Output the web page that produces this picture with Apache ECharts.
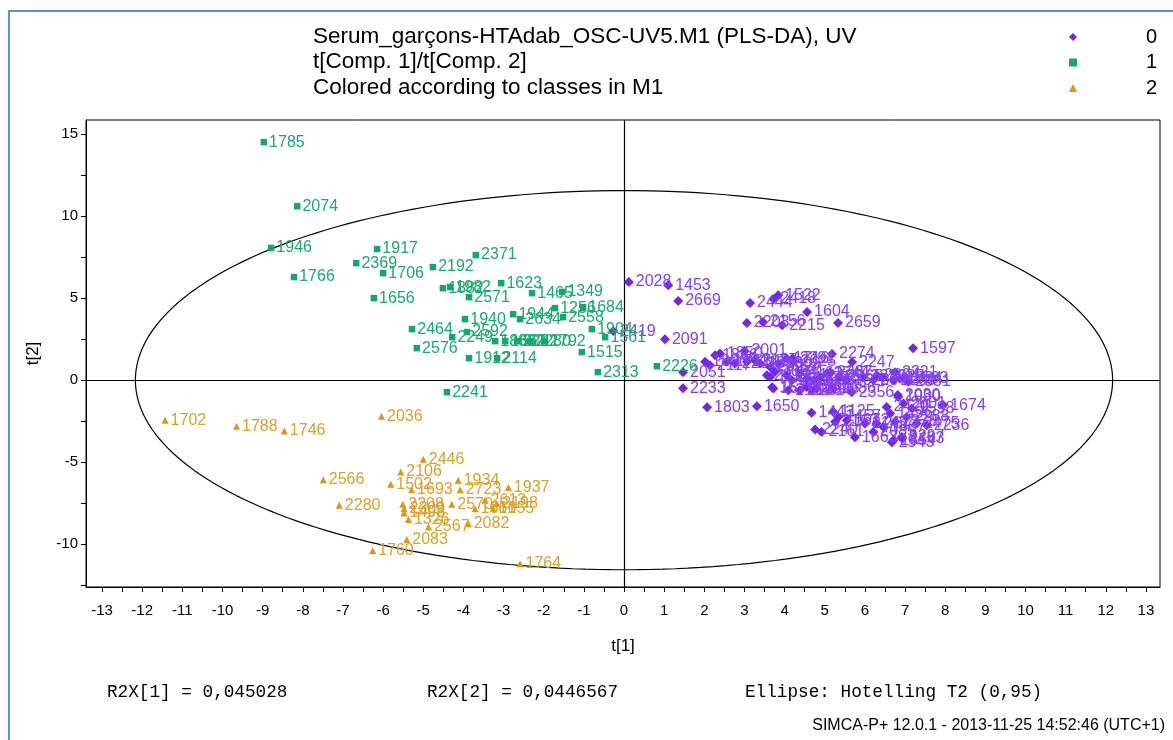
<!DOCTYPE html>
<html>
<head>
<meta charset="utf-8">
<script src="https://cdn.jsdelivr.net/npm/echarts@6/dist/echarts.min.js"></script>
<style>
  html, body { margin: 0; padding: 0; background: #fff; }
  #wrap { position: relative; width: 1173px; height: 740px; overflow: hidden; }
  #frame { position: absolute; left: 8px; top: 10px; width: 1200px; height: 800px;
           border-left: 2px solid #5b8fd6; border-top: 2px solid #5b8fd6; }
  #chart { position: absolute; left: 0; top: 0; width: 1173px; height: 740px; }
</style>
</head>
<body>
<div id="wrap"><div id="frame"></div><div id="chart"></div></div>
<script>
// ---- data: [t1, t2, observation label] ----
var class0 = [
  [0.12, 5.98, '2028'], [1.10, 5.79, '1453'], [1.35, 4.82, '2669'], [3.14, 4.70, '2444'],
  [3.84, 5.18, '1522'], [3.72, 4.95, '2418'], [4.56, 4.15, '1604'], [5.33, 3.48, '2659'],
  [3.06, 3.48, '2203'], [3.46, 3.54, '2156'], [3.94, 3.35, '2215'], [-0.27, 2.99, '2419'],
  [1.02, 2.50, '2091'], [7.20, 1.95, '1597'], [1.47, -0.49, '2233'], [2.07, -1.65, '1803'],
  [3.31, -1.59, '1650'], [1.47, 0.49, '2051'], [5.18, 1.59, '2274'], [4.20, 1.34, '2291'],
  [5.68, 1.10, '2247'], [6.75, 0.49, '2221'], [7.02, 0.12, '1593'], [5.13, 0.49, '2287'],
  [6.30, 0.30, '2304'], [5.67, -0.73, '2356'], [4.68, -0.61, '2656'], [6.82, -0.91, '2030'],
  [7.95, -1.52, '1674'], [7.54, -2.74, '2236'], [6.92, -3.54, '2463'], [6.67, -3.78, '2943'],
  [5.75, -3.48, '1663'], [4.76, -3.01, '2240'], [4.92, -3.15, '2161'], [4.67, -1.99, '1443'],
  [5.21, -1.93, '1125'], [2.02, 1.12, '1896'], [2.27, 1.52, '1866'], [2.39, 1.63, '1850'],
  [2.14, 0.91, '2117'], [2.56, 1.12, '1712'], [2.76, 1.02, '2201'], [3.06, 1.12, '1548'],
  [3.00, 1.80, '2001'], [3.26, 1.22, '2127'], [3.39, 1.02, '1690'], [3.64, 0.81, '2392'],
  [3.84, 1.02, '1809'], [4.05, 1.32, '1716'], [4.22, 1.12, '2625'], [3.64, 0.20, '1133'],
  [3.76, 0.51, '2094'], [4.05, 0.30, '1131'], [4.18, 0.00, '2376'], [4.38, 0.41, '2162'],
  [4.55, 0.10, '1579'], [4.72, 0.00, '2633'], [4.88, 0.20, '2409'], [5.05, 0.41, '1744'],
  [5.38, 0.20, '2265'], [5.55, 0.00, '1620'], [3.72, -0.51, '1572'], [4.09, -0.61, '2184'],
  [4.38, -0.61, '1998'], [4.55, -0.41, '2537'], [4.80, -0.51, '2696'], [5.21, -0.51, '1986'],
  [5.96, 0.20, '2320'], [6.21, 0.00, '2041'], [6.42, 0.20, '1627'], [6.71, 0.00, '2289'],
  [6.87, 0.10, '1884'], [7.08, -0.10, '2331'], [3.56, 0.30, '2019'], [3.69, -0.43, '1577'],
  [5.34, -2.24, '1457'], [5.26, -2.54, '2167'], [5.55, -2.44, '1672'], [6.29, -2.64, '2173'],
  [6.54, -1.63, '2420'], [6.63, -2.03, '1496'], [6.75, -2.54, '2378'], [6.83, -1.02, '1990'],
  [6.96, -1.42, '2601'], [7.17, -1.73, '1598'], [7.29, -2.64, '2475'], [7.04, -2.24, '2288'],
  [6.71, -3.66, '1854'], [6.92, -3.46, '2297'], [6.46, -2.85, '1807'], [6.21, -3.15, '2085'],
  [6.00, -2.64, '2145']
];
var class1 = [
  [-8.97, 14.50, '1785'], [-8.14, 10.60, '2074'], [-8.79, 8.05, '1946'], [-8.22, 6.28, '1766'],
  [-6.15, 7.99, '1917'], [-6.67, 7.13, '2369'], [-6.00, 6.52, '1706'], [-6.23, 5.00, '1656'],
  [-4.76, 6.89, '2192'], [-3.69, 7.62, '2371'], [-4.51, 5.60, '1882'], [-4.33, 5.67, '1982'],
  [-3.86, 5.06, '2571'], [-3.06, 5.91, '1623'], [-2.29, 5.30, '1465'], [-1.54, 5.37, '1349'],
  [-3.96, 3.72, '1940'], [-2.76, 4.02, '1944'], [-2.59, 3.72, '2634'], [-1.72, 4.39, '1256'],
  [-1.02, 4.45, '1684'], [-1.52, 3.84, '2558'], [-5.28, 3.11, '2464'], [-4.28, 2.62, '2249'],
  [-3.91, 2.93, '2592'], [-5.16, 1.95, '2576'], [-3.86, 1.34, '1912'], [-3.16, 1.34, '2114'],
  [-3.21, 2.38, '1883'], [-2.96, 2.38, '1662'], [-2.66, 2.38, '2282'], [-2.34, 2.38, '2230'],
  [-1.97, 2.38, '1792'], [-0.80, 3.11, '1904'], [-0.47, 2.62, '1561'], [-1.05, 1.71, '1515'],
  [-0.65, 0.49, '2313'], [0.82, 0.85, '2226'], [-4.41, -0.73, '2241']
];
var class2 = [
  [-11.43, -2.44, '1702'], [-9.65, -2.80, '1788'], [-8.46, -3.09, '1746'], [-6.04, -2.20, '2036'],
  [-5.00, -4.82, '2446'], [-5.56, -5.59, '2106'], [-7.49, -6.06, '2566'], [-5.81, -6.34, '1502'],
  [-5.29, -6.67, '1693'], [-4.13, -6.10, '1934'], [-4.08, -6.67, '2723'], [-2.88, -6.54, '1937'],
  [-7.09, -7.62, '2280'], [-5.51, -7.56, '2208'], [-5.48, -7.83, '2309'], [-5.48, -8.09, '1498'],
  [-5.37, -8.49, '1326'], [-4.29, -7.56, '2570'], [-3.71, -7.83, '1661'], [-3.46, -7.32, '2613'],
  [-3.17, -7.52, '2198'], [-3.26, -7.83, '1655'], [-4.87, -8.94, '2567'], [-3.88, -8.74, '2082'],
  [-5.41, -9.71, '2083'], [-6.26, -10.37, '1760'], [-2.59, -11.18, '1764']
];
var classNames = ['0', '1', '2'];
var titleLines = ['Serum_garçons-HTAdab_OSC-UV5.M1 (PLS-DA), UV', 't[Comp. 1]/t[Comp. 2]', 'Colored according to classes in M1'];
var xTickLabels = [-13,-12,-11,-10,-9,-8,-7,-6,-5,-4,-3,-2,-1,0,1,2,3,4,5,6,7,8,9,10,11,12,13];
var yTickLabels = [-10, -5, 0, 5, 10, 15];
var ellipseSemiAxes = [12.17, 11.55];   // Hotelling T2 (0.95) ellipse
var footnotes = ['R2X[1] = 0,045028', 'R2X[2] = 0,0446567', 'Ellipse: Hotelling T2 (0,95)'];
var stamp = 'SIMCA-P+ 12.0.1 - 2013-11-25 14:52:46 (UTC+1)';

// ---- derived ----
var xMinor = [];
for (var i = -26; i <= 26; i++) xMinor.push(i / 2);
var yMinor = [];
for (var j = -5; j <= 6; j++) yMinor.push(j * 2.5);
var ellipse = [];
for (var k = 0; k <= 240; k++) {
  var t = 2 * Math.PI * k / 240;
  ellipse.push([ellipseSemiAxes[0] * Math.cos(t), ellipseSemiAxes[1] * Math.sin(t)]);
}

var colors = { '0': '#7326e8', '1': '#14a66e', '2': '#e39410' };
var labelColors = { '0': '#8440ee', '1': '#1aa872', '2': '#d9a02a' };
var FONT = '"Liberation Sans", Arial, sans-serif';

function scatter(name, pts, symbol, size) {
  return {
    name: name, type: 'scatter', symbol: symbol, symbolSize: size,
    data: pts.map(function (p) { return { value: [p[0], p[1]], name: p[2] }; }),
    itemStyle: { color: colors[name], opacity: 1 },
    label: { show: true, position: 'right', distance: 2, formatter: '{b}',
             color: labelColors[name], fontSize: 16, fontFamily: FONT },
    labelLayout: { hideOverlap: false },
    z: 5, animation: false
  };
}

var chart = echarts.init(document.getElementById('chart'));
chart.setOption({
  animation: false,
  backgroundColor: 'transparent',
  title: {
    text: titleLines.join('\n'), left: 308, top: 19,
    textStyle: { fontSize: 22.5, lineHeight: 25.5, fontWeight: 'normal', color: '#000', fontFamily: FONT }
  },
  legend: {
    left: 1064, top: 22, orient: 'vertical', itemWidth: 8, itemHeight: 8, itemGap: 5.5,
    data: [{ name: '0', icon: 'diamond' }, { name: '1', icon: 'rect' }, { name: '2', icon: 'triangle' }],
    textStyle: { fontSize: 20, lineHeight: 20, color: '#000', fontFamily: FONT, padding: [0, 0, 0, 64] }
  },
  grid: { left: 86, right: 13, top: 120, bottom: 153, show: true, borderColor: '#000', borderWidth: 1, backgroundColor: '#fff' },
  xAxis: {
    type: 'value', min: -13.4, max: 13.35,
    name: 't[1]', nameLocation: 'middle', nameGap: 51,
    nameTextStyle: { fontSize: 17, color: '#000', fontFamily: FONT },
    axisLine: { show: true, onZero: false, lineStyle: { color: '#000' } },
    axisTick: { show: true, customValues: xMinor, length: 5, lineStyle: { color: '#000' } },
    axisLabel: { customValues: xTickLabels, fontSize: 15, color: '#000', fontFamily: FONT, margin: 16 },
    splitLine: { show: false }
  },
  yAxis: {
    type: 'value', min: -12.6, max: 15.85,
    name: 't[2]', nameLocation: 'middle', nameGap: 44, nameRotate: 90,
    nameTextStyle: { fontSize: 17, color: '#000', fontFamily: FONT },
    axisLine: { show: true, onZero: false, lineStyle: { color: '#000' } },
    axisTick: { show: true, customValues: yMinor, length: 5, lineStyle: { color: '#000' } },
    axisLabel: { customValues: yTickLabels, fontSize: 15, color: '#000', fontFamily: FONT, margin: 8 },
    splitLine: { show: false }
  },
  series: [
    {
      name: 'ellipse', type: 'line', data: ellipse, symbol: 'none', smooth: false,
      lineStyle: { color: '#000', width: 1.2 }, z: 2, silent: true,
      markLine: {
        silent: true, symbol: 'none', label: { show: false },
        lineStyle: { color: '#000', width: 1.2, type: 'solid' },
        data: [{ xAxis: 0 }, { yAxis: 0 }]
      }
    },
    scatter('0', class0, 'diamond', 10),
    scatter('1', class1, 'rect', 6.5),
    scatter('2', class2, 'triangle', 7)
  ],
  graphic: [
    { type: 'text', left: 107, top: 683, style: { text: footnotes[0], font: '17.7px "Liberation Mono", monospace', fill: '#000' } },
    { type: 'text', left: 427, top: 683, style: { text: footnotes[1], font: '17.7px "Liberation Mono", monospace', fill: '#000' } },
    { type: 'text', left: 745, top: 683, style: { text: footnotes[2], font: '17.7px "Liberation Mono", monospace', fill: '#000' } },
    { type: 'text', right: 8, top: 718, style: { text: stamp, font: '16px "Liberation Sans", Arial, sans-serif', fill: '#000' } }
  ]
});
</script>
</body>
</html>
